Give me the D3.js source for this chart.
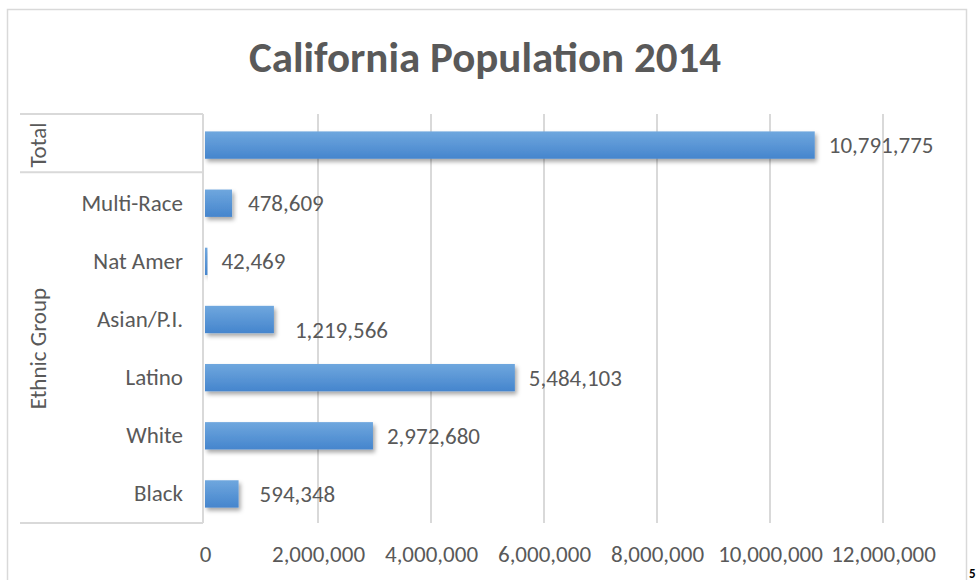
<!DOCTYPE html>
<html>
<head>
<meta charset="utf-8">
<script src="https://cdn.jsdelivr.net/npm/d3@7"></script>
<style>
  body { margin: 0; background: #fff; }
  svg { display: block; font-family: Calibri, Carlito, "Liberation Sans", Arial, sans-serif; }
</style>
</head>
<body>
<svg id="chart" width="977" height="580"></svg>
<script>
// data
const title = "California Population 2014";
const categories = ["Total", "Multi-Race", "Nat Amer", "Asian/P.I.", "Latino", "White", "Black"];
const values = [10791775, 478609, 42469, 1219566, 5484103, 2972680, 594348];
const tickValues = [0, 2000000, 4000000, 6000000, 8000000, 10000000, 12000000];
const groups = [
    { name: "Total", members: ["Total"] },
    { name: "Ethnic Group", members: ["Multi-Race", "Nat Amer", "Asian/P.I.", "Latino", "White", "Black"] }
];

const data = categories.map((c, i) => ({ cat: c, value: values[i] }));

const margin = { top: 116, right: 94, bottom: 57, left: 205 };
const W = 977, H = 580;
const width = W - margin.left - margin.right;
const height = H - margin.top - margin.bottom;
const textColor = "#595959";
const gridColor = "#d9d9d9";
const fontSize = "23px";

const svg = d3.select("#chart");

// chart frame
svg.append("rect")
    .attr("x", 7.5).attr("y", 9.5)
    .attr("width", 959).attr("height", 620)
    .attr("fill", "none")
    .attr("stroke", gridColor)
    .attr("stroke-width", 1.5);

const defs = svg.append("defs");
const grad = defs.append("linearGradient")
    .attr("id", "barGrad")
    .attr("x1", 0).attr("y1", 0).attr("x2", 0).attr("y2", 1);
grad.append("stop").attr("offset", "0%").attr("stop-color", "#6fa7de");
grad.append("stop").attr("offset", "100%").attr("stop-color", "#4585cd");

const shadow = defs.append("filter")
    .attr("id", "shadow")
    .attr("x", "-10%").attr("y", "-30%")
    .attr("width", "130%").attr("height", "170%");
shadow.append("feDropShadow")
    .attr("dx", 2).attr("dy", 3)
    .attr("stdDeviation", 2)
    .attr("flood-color", "#000")
    .attr("flood-opacity", 0.35);

svg.append("text")
    .attr("x", 485)
    .attr("y", 72)
    .attr("text-anchor", "middle")
    .attr("fill", textColor)
    .style("font-size", "43px")
    .style("font-weight", "bold")
    .text(title);

const g = svg.append("g")
    .attr("transform", `translate(${margin.left},${margin.top})`);

const x = d3.scaleLinear().domain([0, 12000000]).range([0, width]);
const y = d3.scaleBand().domain(categories).range([0, height]).paddingInner(0.53).paddingOuter(0.265);

// gridlines
g.append("g")
    .selectAll("line")
    .data(tickValues.slice(1))
    .enter()
    .append("line")
    .attr("x1", d => x(d)).attr("x2", d => x(d))
    .attr("y1", -2).attr("y2", height)
    .attr("stroke", gridColor)
    .attr("stroke-width", 2);

// x axis labels (no line)
const xAxis = g.append("g")
    .attr("transform", `translate(0,${height})`)
    .call(d3.axisBottom(x).tickValues(tickValues).tickFormat(d3.format(",")).tickSize(0).tickPadding(23))
    .attr("font-family", null)
    .attr("font-size", null);
xAxis.select(".domain").remove();
xAxis.selectAll("text")
    .attr("fill", textColor)
    .style("font-size", fontSize);

// bars
g.selectAll("rect.bar")
    .data(data)
    .enter()
    .append("rect")
    .attr("class", "bar")
    .attr("x", x(0))
    .attr("y", d => y(d.cat))
    .attr("width", d => x(d.value) - x(0))
    .attr("height", y.bandwidth())
    .attr("fill", "url(#barGrad)")
    .attr("filter", "url(#shadow)");

// value labels
const labelNudge = { "Asian/P.I.": [7, 10], "Black": [7, 0], "Multi-Race": [2, 0] };
g.selectAll("text.val")
    .data(data)
    .enter()
    .append("text")
    .attr("class", "val")
    .attr("x", d => x(d.value) + 14 + (labelNudge[d.cat] ? labelNudge[d.cat][0] : 0))
    .attr("y", d => y(d.cat) + y.bandwidth() / 2 + 8 + (labelNudge[d.cat] ? labelNudge[d.cat][1] : 0))
    .attr("fill", textColor)
    .style("font-size", fontSize)
    .text(d => d3.format(",")(d.value));

// category labels
const yAxis = g.append("g")
    .call(d3.axisLeft(y).tickSize(0).tickPadding(22))
    .attr("font-family", null)
    .attr("font-size", null);
yAxis.select(".domain").remove();
yAxis.selectAll("text")
    .attr("fill", textColor)
    .style("font-size", fontSize)
    .filter(d => d === "Total")
    .remove();

// grouped label table on the left
const tableLeft = 20 - margin.left, tableRight = -2;
const step = y.step();
const boundaries = [-2, step * 1 - 2, height];
g.selectAll("line.tbl")
    .data(boundaries)
    .enter()
    .append("line")
    .attr("class", "tbl")
    .attr("x1", tableLeft).attr("x2", tableRight)
    .attr("y1", d => d).attr("y2", d => d)
    .attr("stroke", gridColor)
    .attr("stroke-width", 2);
g.append("line")
    .attr("x1", tableRight).attr("x2", tableRight)
    .attr("y1", -2).attr("y2", height)
    .attr("stroke", gridColor)
    .attr("stroke-width", 2);

groups.forEach(grp => {
    const y0 = y(grp.members[0]) - y.step() * y.paddingInner() / 2;
    const last = grp.members[grp.members.length - 1];
    const y1 = y(last) + y.bandwidth() + y.step() * y.paddingInner() / 2;
    g.append("text")
        .attr("transform", `translate(${46 - margin.left},${(y0 + y1) / 2}) rotate(-90)`)
        .attr("text-anchor", "middle")
        .attr("fill", textColor)
        .style("font-size", fontSize)
        .text(grp.name);
});

// stray glyph at the bottom right edge of the reference
svg.append("text")
    .attr("x", 969)
    .attr("y", 578)
    .attr("fill", "#000")
    .style("font-size", "13px")
    .style("font-weight", "bold")
    .text("5");
</script>
</body>
</html>
